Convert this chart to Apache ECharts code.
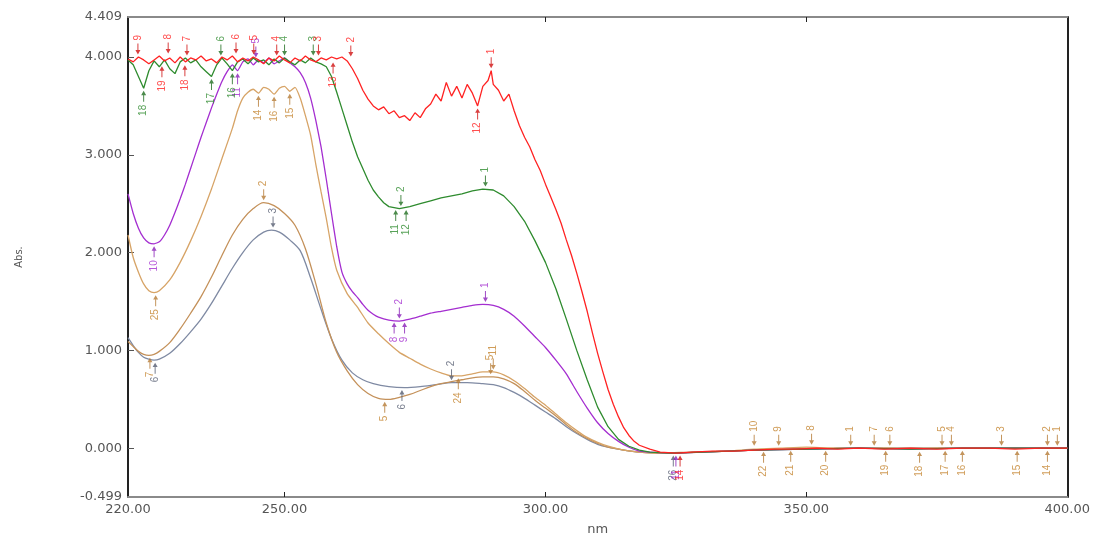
<!DOCTYPE html>
<html>
<head>
<meta charset="utf-8">
<title>UV spectra</title>
<script src="https://cdn.jsdelivr.net/npm/echarts@6/dist/echarts.min.js"></script>
<style>
  html, body { margin: 0; padding: 0; background: #fff; }
  #chart { width: 1093px; height: 541px; }
</style>
</head>
<body>
<div id="chart"></div>
<script>
// wavelength (nm), absorbance pairs
const redSpectrum = [
  [220,3.98],[221,3.95],[222,4.00],[223,3.97],[224,3.93],[225,3.97],[226,4.01],[227,3.96],[228,3.99],[229,3.94],
  [230,4.00],[231,3.95],[232,3.99],[233,3.97],[234,4.01],[235,3.96],[236,3.98],[237,3.94],[238,4.00],[239,3.97],
  [240,4.01],[241,3.95],[242,3.99],[243,3.96],[244,4.00],[245,3.97],[246,3.93],[247,3.99],[248,3.96],[249,4.01],
  [250,3.97],[251,3.94],[252,3.99],[253,3.96],[254,4.01],[255,3.97],[256,3.95],[257,3.99],[258,3.97],[259,4.00],
  [260,3.98],[261,4.00],[262,3.96],[263,3.88],[264,3.78],[265,3.66],[266,3.57],[267,3.50],[268,3.46],[269,3.49],
  [270,3.42],[271,3.45],[272,3.38],[273,3.40],[274,3.35],[275,3.43],[276,3.38],[277,3.47],[278,3.52],[279,3.62],
  [280,3.55],[281,3.74],[282,3.60],[283,3.70],[284,3.58],[285,3.72],[286,3.63],[287,3.50],[288,3.70],[289,3.76],
  [289.6,3.86],[290,3.72],[291,3.66],[292,3.55],[293,3.62],[294,3.45],[295,3.30],[296,3.18],[297,3.08],[298,2.95],
  [299,2.84],[300,2.70],[301,2.57],[302,2.44],[303,2.30],[304,2.13],[305,1.97],[306,1.79],[307,1.60],[308,1.40],
  [309,1.18],[310,0.97],[311,0.78],[312,0.60],[313,0.45],[314,0.32],[315,0.21],[316,0.13],[317,0.07],[318,0.03],
  [320,-0.01],[322,-0.04],[325,-0.05],[328,-0.04],[332,-0.03],[336,-0.03],[340,-0.02],[344,-0.01],[348,-0.01],
  [352,0.00],[356,-0.01],[360,0.00],[365,-0.01],[370,0.00],[375,-0.01],[380,0.00],[385,0.00],[390,-0.01],[395,0.00],[400,0.00]
];
const greenSpectrum = [
  [220,3.97],[221,3.92],[222,3.80],[223,3.68],[224,3.86],[225,3.96],[226,3.90],[227,3.97],[228,3.88],[229,3.83],
  [230,3.95],[231,3.99],[232,3.94],[233,3.97],[234,3.90],[235,3.85],[236,3.80],[237,3.92],[238,3.99],[239,3.93],
  [240,3.86],[241,3.95],[242,3.98],[243,3.93],[244,3.99],[245,3.95],[246,3.97],[247,3.92],[248,3.98],[249,3.94],
  [250,3.99],[251,3.95],[252,3.92],[253,3.97],[254,3.94],[255,3.99],[256,3.95],[257,3.93],[258,3.90],[259,3.80],
  [260,3.64],[261,3.47],[262,3.30],[263,3.13],[264,2.98],[265,2.86],[266,2.74],[267,2.64],[268,2.57],[269,2.51],
  [270,2.47],[272,2.45],[274,2.47],[276,2.50],[278,2.53],[280,2.56],[282,2.58],[284,2.60],[286,2.63],[288,2.65],
  [290,2.64],[292,2.58],[294,2.47],[296,2.32],[298,2.12],[300,1.90],[302,1.63],[304,1.32],[306,1.00],[308,0.70],
  [310,0.42],[312,0.22],[314,0.09],[316,0.02],[318,-0.02],[320,-0.04],[324,-0.05],[330,-0.04],[340,-0.02],
  [350,-0.01],[360,0.00],[370,-0.01],[380,0.00],[390,0.00],[400,0.00]
];
const purpleSpectrum = [
  [220,2.60],[221,2.40],[222,2.25],[223,2.15],[224,2.10],[225,2.09],[226,2.11],[227,2.18],[228,2.28],[229,2.41],
  [230,2.55],[231,2.70],[232,2.86],[233,3.02],[234,3.18],[235,3.33],[236,3.48],[237,3.62],[238,3.75],[239,3.85],
  [240,3.92],[241,3.86],[242,3.95],[243,3.98],[244,3.92],[245,3.97],[246,3.94],[247,3.99],[248,3.93],[249,3.96],
  [250,3.99],[251,3.94],[252,3.90],[253,3.84],[254,3.74],[255,3.58],[256,3.35],[257,3.08],[258,2.75],[259,2.40],
  [260,2.06],[261,1.80],[262,1.68],[263,1.60],[264,1.54],[265,1.47],[266,1.41],[267,1.37],[268,1.34],[270,1.31],
  [272,1.30],[274,1.32],[276,1.35],[278,1.38],[280,1.40],[282,1.42],[284,1.44],[286,1.46],[288,1.47],[290,1.46],
  [292,1.42],[294,1.35],[296,1.25],[298,1.14],[300,1.03],[302,0.90],[304,0.76],[306,0.58],[308,0.41],[310,0.26],
  [312,0.15],[314,0.07],[316,0.01],[318,-0.03],[320,-0.04],[325,-0.05],[330,-0.04],[340,-0.02],[350,-0.01],
  [360,0.00],[370,-0.01],[380,0.00],[390,0.00],[400,0.00]
];
const tanUpperSpectrum = [
  [220,2.18],[221,1.95],[222,1.80],[223,1.68],[224,1.61],[225,1.59],[226,1.61],[228,1.72],[230,1.90],[232,2.12],
  [234,2.37],[236,2.65],[238,2.96],[240,3.27],[241,3.45],[242,3.58],[243,3.64],[244,3.67],[245,3.63],[246,3.69],
  [247,3.67],[248,3.62],[249,3.68],[250,3.70],[251,3.65],[252,3.69],[253,3.58],[254,3.40],[255,3.20],[256,2.90],
  [257,2.62],[258,2.35],[259,2.05],[260,1.82],[262,1.58],[264,1.44],[266,1.28],[268,1.17],[270,1.07],[272,0.98],
  [274,0.92],[276,0.86],[278,0.81],[280,0.77],[282,0.74],[284,0.74],[286,0.76],[288,0.78],[290,0.78],[292,0.75],
  [294,0.69],[296,0.61],[298,0.52],[300,0.44],[302,0.35],[304,0.26],[306,0.18],[308,0.11],[310,0.06],[312,0.02],
  [315,-0.02],[318,-0.04],[322,-0.05],[326,-0.05],[330,-0.04],[335,-0.03],[340,-0.01],[345,0.00],[350,0.01],
  [355,0.00],[360,0.00],[365,0.00],[370,-0.01],[375,0.00],[380,0.00],[390,0.00],[400,0.00]
];
const tanLowerSpectrum = [
  [220,1.09],[221,1.04],[222,0.99],[223,0.96],[224,0.95],[225,0.96],[226,0.99],[228,1.08],[230,1.22],[232,1.38],
  [234,1.55],[236,1.75],[238,1.97],[240,2.18],[242,2.34],[244,2.45],[246,2.51],[248,2.48],[250,2.40],[252,2.28],
  [254,2.04],[256,1.68],[258,1.28],[260,0.98],[262,0.79],[264,0.65],[266,0.56],[268,0.51],[270,0.50],[272,0.52],
  [274,0.55],[276,0.59],[278,0.63],[280,0.66],[282,0.68],[284,0.70],[286,0.72],[288,0.73],[290,0.73],[292,0.71],
  [294,0.66],[296,0.58],[298,0.49],[300,0.41],[302,0.33],[304,0.24],[306,0.16],[308,0.10],[310,0.05],[312,0.01],
  [315,-0.02],[318,-0.04],[322,-0.05],[328,-0.04],[335,-0.03],[340,-0.02],[345,-0.01],[350,0.00],[360,0.00],
  [370,0.00],[380,0.00],[390,0.00],[400,0.00]
];
const graySpectrum = [
  [220,1.13],[221,1.05],[222,0.98],[223,0.93],[224,0.91],[225,0.90],[226,0.91],[228,0.97],[230,1.07],[232,1.19],
  [234,1.32],[236,1.48],[238,1.66],[240,1.84],[242,2.00],[244,2.13],[246,2.21],[247.5,2.23],[249,2.21],[251,2.13],
  [253,2.02],[255,1.74],[257,1.42],[259,1.12],[261,0.90],[263,0.77],[265,0.70],[267,0.66],[270,0.63],[273,0.62],
  [276,0.63],[279,0.65],[282,0.67],[285,0.67],[288,0.66],[290,0.65],[292,0.62],[294,0.57],[296,0.51],[298,0.44],
  [300,0.37],[302,0.30],[304,0.22],[306,0.15],[308,0.09],[310,0.04],[312,0.01],[315,-0.02],[318,-0.04],[324,-0.05],
  [330,-0.04],[340,-0.02],[350,-0.01],[360,0.00],[380,0.00],[400,0.00]
];

// peak-pick marks: [nm, abs, number]; peaks are flagged from above, valleys from below
const redPeaks = [[221.9,4.00,'9'],[227.7,4.01,'8'],[231.3,3.99,'7'],[240.7,4.01,'6'],[244.1,4.00,'5'],[248.5,3.99,'4'],[256.5,3.99,'3'],[262.7,3.98,'2'],[289.6,3.86,'1']];
const redValleys = [[226.5,3.93,'19'],[230.9,3.94,'18'],[259.3,3.97,'13'],[287,3.50,'12'],[325.8,-0.05,'14']];
const greenPeaks = [[237.8,3.99,'6'],[250,3.99,'4'],[255.5,3.99,'3'],[272.3,2.45,'2'],[288.5,2.65,'1']];
const greenValleys = [[223,3.68,'18'],[236,3.80,'17'],[240,3.86,'16'],[271.3,2.46,'11'],[273.3,2.46,'12']];
const purplePeaks = [[244.5,3.97,'5'],[272,1.30,'2'],[288.5,1.47,'1']];
const purpleValleys = [[225,2.09,'10'],[241,3.86,'11'],[271,1.31,'8'],[273,1.31,'9'],[325,-0.05,'11']];
const tanPeaks = [[290,0.78,'11'],[340,0.00,'10'],[344.7,0.00,'9'],[351,0.01,'8'],[358.5,0.00,'1'],[363,0.00,'7'],[366,0.00,'6'],[376,0.00,'5'],[377.8,0.00,'4'],[387.4,0.00,'3'],[396.2,0.00,'2'],[398.1,0.00,'1']];
const tanValleys = [[225.3,1.59,'25'],[245,3.63,'14'],[248,3.62,'16'],[251,3.65,'15'],[283.3,0.74,'24'],[341.8,-0.01,'22'],[347,0.00,'21'],[353.7,0.00,'20'],[365.2,0.00,'19'],[371.7,-0.01,'18'],[376.6,0.00,'17'],[379.9,0.00,'16'],[390.4,0.00,'15'],[396.2,0.00,'14']];
const tanLowerPeaks = [[246,2.51,'2'],[289.5,0.73,'5']];
const tanLowerValleys = [[224.2,0.95,'7'],[269.2,0.50,'5']];
const grayPeaks = [[247.8,2.23,'3'],[282,0.67,'2']];
const grayValleys = [[225.2,0.90,'6'],[272.5,0.62,'6'],[324.5,-0.05,'26']];

const xLabels = [220, 250, 300, 350, 400];
const xTicks = [250, 300, 350];
const yLabels = [-0.499, 0, 1, 2, 3, 4, 4.409];
const yTicks = [0, 1, 2, 3, 4];

const arrowPath = 'path://M4,0 L6,0 L6,9 L10,9 L5,15 L0,9 L4,9 Z';

function lineSeries(name, data, color, smooth) {
  return {
    name, type: 'line', data, smooth,
    showSymbol: false, animation: false,
    lineStyle: { color, width: 1.3 },
    z: 2
  };
}

function markSeries(marks, color, labelColor, up) {
  return {
    type: 'scatter',
    animation: false,
    silent: true,
    data: marks.map(m => ({ value: [m[0], m[1]], name: m[2] })),
    symbol: arrowPath,
    symbolSize: [5, 11],
    symbolRotate: up ? 180 : 0,
    symbolOffset: [0, up ? 8 : -8],
    itemStyle: { color },
    label: {
      show: true,
      formatter: p => p.name,
      position: up ? 'bottom' : 'top',
      distance: 3,
      rotate: 90,
      align: up ? 'right' : 'left',
      verticalAlign: 'middle',
      fontSize: 10,
      fontFamily: 'Liberation Sans',
      color: labelColor
    },
    z: 3
  };
}

const C = {
  red: '#ff2222', green: '#2e8b2e', purple: '#a42ed0',
  tanUp: '#d7a467', tanLow: '#c4915a', gray: '#7f8aa3'
};

const chart = echarts.init(document.getElementById('chart'), null, { renderer: 'canvas' });

const axisText = { fontFamily: 'DejaVu Sans', fontSize: 13, color: '#555' };

chart.setOption({
  backgroundColor: '#fff',
  animation: false,
  grid: { left: 128, right: 25, top: 17, bottom: 25 },
  xAxis: [{
    type: 'value', min: 220, max: 400, position: 'bottom',
    name: 'nm', nameLocation: 'middle', nameGap: 26,
    nameTextStyle: { fontFamily: 'DejaVu Sans', fontSize: 13, color: '#555' },
    axisLine: { show: true, onZero: false, lineStyle: { color: '#8a8a8a', width: 2 } },
    axisTick: { show: true, inside: true, length: 5, customValues: xTicks, lineStyle: { color: '#222' } },
    axisLabel: Object.assign({ customValues: xLabels, margin: 6, formatter: v => v.toFixed(2) }, axisText),
    splitLine: { show: false }
  }, {
    type: 'value', min: 220, max: 400, position: 'top',
    axisLine: { show: true, onZero: false, lineStyle: { color: '#8a8a8a', width: 2 } },
    axisTick: { show: true, inside: true, length: 5, customValues: xTicks, lineStyle: { color: '#222' } },
    axisLabel: { show: false },
    splitLine: { show: false }
  }],
  yAxis: [{
    type: 'value', min: -0.499, max: 4.409, position: 'left',
    name: 'Abs.', nameLocation: 'middle', nameGap: 104,
    nameTextStyle: { fontFamily: 'DejaVu Sans', fontSize: 10, color: '#555' },
    axisLine: { show: true, onZero: false, lineStyle: { color: '#222', width: 2 } },
    axisTick: { show: true, inside: true, length: 6, customValues: yTicks, lineStyle: { color: '#555' } },
    axisLabel: Object.assign({ customValues: yLabels, margin: 6, formatter: v => v.toFixed(3) }, axisText),
    splitLine: { show: false }
  }, {
    type: 'value', min: -0.499, max: 4.409, position: 'right',
    axisLine: { show: true, onZero: false, lineStyle: { color: '#222', width: 2 } },
    axisTick: { show: false },
    axisLabel: { show: false },
    splitLine: { show: false }
  }],
  series: [
    lineSeries('gray', graySpectrum, C.gray, 0.3),
    lineSeries('tanLower', tanLowerSpectrum, C.tanLow, 0.3),
    lineSeries('tanUpper', tanUpperSpectrum, C.tanUp, 0.2),
    lineSeries('purple', purpleSpectrum, C.purple, 0.15),
    lineSeries('green', greenSpectrum, C.green, false),
    lineSeries('red', redSpectrum, C.red, false),
    markSeries(grayPeaks, '#555c70', '#555c70', false),
    markSeries(grayValleys, '#555c70', '#555c70', true),
    markSeries(tanLowerPeaks, '#b57a35', '#c4852f', false),
    markSeries(tanLowerValleys, '#b57a35', '#c4852f', true),
    markSeries(tanPeaks, '#b57a35', '#c4852f', false),
    markSeries(tanValleys, '#b57a35', '#c4852f', true),
    markSeries(purplePeaks, '#8a1fb8', '#a42ed0', false),
    markSeries(purpleValleys, '#8a1fb8', '#a42ed0', true),
    markSeries(greenPeaks, '#1f6e1f', '#2e8b2e', false),
    markSeries(greenValleys, '#1f6e1f', '#2e8b2e', true),
    markSeries(redPeaks, '#d01010', '#ff2222', false),
    markSeries(redValleys, '#d01010', '#ff2222', true)
  ]
});
</script>
</body>
</html>
